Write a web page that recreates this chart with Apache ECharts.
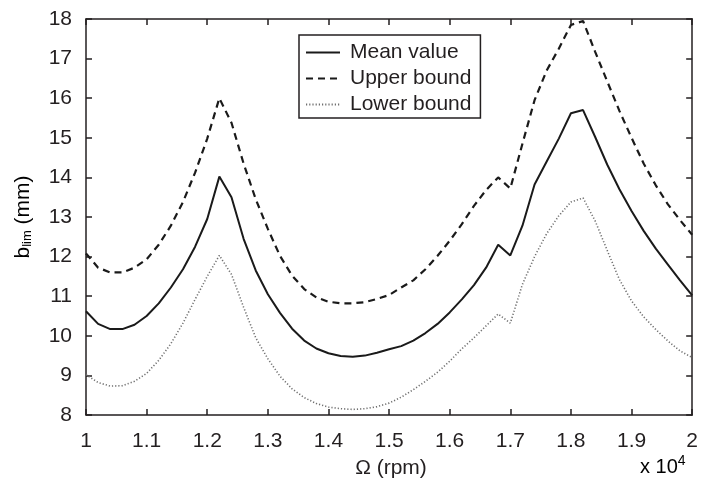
<!DOCTYPE html>
<html>
<head>
<meta charset="utf-8">
<script src="https://cdn.jsdelivr.net/npm/echarts@6/dist/echarts.min.js"></script>
<style>html,body{margin:0;padding:0;background:#fff}#c{width:701px;height:485px}</style>
</head>
<body>
<div id="c"></div>
<script>
// Omega in units of 10^4 rpm
const omega = [1.00,1.02,1.04,1.06,1.08,1.10,1.12,1.14,1.16,1.18,1.20,1.22,1.24,1.26,1.28,1.30,1.32,1.34,1.36,1.38,1.40,1.42,1.44,1.46,1.48,1.50,1.52,1.54,1.56,1.58,1.60,1.62,1.64,1.66,1.68,1.70,1.72,1.74,1.76,1.78,1.80,1.82,1.84,1.86,1.88,1.90,1.92,1.94,1.96,1.98,2.00];
const meanValue = [10.62,10.30,10.17,10.17,10.28,10.50,10.82,11.22,11.68,12.25,12.95,14.02,13.50,12.45,11.65,11.05,10.58,10.18,9.88,9.68,9.56,9.49,9.47,9.50,9.57,9.66,9.74,9.88,10.07,10.30,10.59,10.92,11.28,11.72,12.30,12.03,12.78,13.82,14.40,14.98,15.62,15.70,15.02,14.32,13.70,13.15,12.65,12.20,11.80,11.40,11.02];
const upperBound = [12.08,11.72,11.60,11.60,11.72,11.93,12.30,12.78,13.38,14.12,14.98,16.00,15.38,14.35,13.45,12.70,12.02,11.52,11.18,10.97,10.86,10.82,10.82,10.85,10.93,11.03,11.22,11.40,11.68,12.02,12.40,12.82,13.28,13.68,14.00,13.72,14.85,15.95,16.70,17.25,17.85,17.95,17.17,16.42,15.68,15.00,14.35,13.80,13.32,12.92,12.55];
const lowerBound = [9.02,8.82,8.73,8.74,8.85,9.05,9.38,9.80,10.32,10.92,11.50,12.03,11.55,10.72,9.95,9.42,8.98,8.66,8.44,8.29,8.20,8.16,8.14,8.16,8.21,8.30,8.45,8.64,8.85,9.08,9.36,9.67,9.95,10.25,10.55,10.32,11.30,12.00,12.58,13.03,13.38,13.48,12.90,12.15,11.42,10.88,10.48,10.16,9.87,9.62,9.45];
const seriesNames = ['Mean value','Upper bound','Lower bound'];

const TXT = '#231f20';
const FONT = 'Liberation Sans, Arial, sans-serif';
const pair = arr => omega.map((x,i)=>[x,arr[i]]);
const fmtX = v => String(Math.round(v*10)/10);

const chart = echarts.init(document.getElementById('c'), null, {renderer:'canvas'});
const axisCommon = {
  axisLine:{show:true, onZero:false, lineStyle:{color:'#231f20', width:1.5}},
  axisTick:{show:true, inside:true, length:6, lineStyle:{color:'#231f20', width:1.5}},
  splitLine:{show:false}
};
chart.setOption({
  animation:false,
  backgroundColor:'#fff',
  textStyle:{fontFamily:FONT},
  grid:{left:86, right:4, top:19, bottom:70, containLabel:false},
  legend:{
    orient:'vertical', left:299, top:35,
    data:seriesNames,
    borderColor:'#231f20', borderWidth:1.5,
    padding:[7,9,3,6],
    itemWidth:34, itemHeight:14, itemGap:5,
    itemStyle:{opacity:0},
    textStyle:{fontFamily:FONT, fontSize:21, lineHeight:20, color:TXT, padding:[0,0,0,5]}
  },
  xAxis:[
    Object.assign({type:'value', min:1, max:2, interval:0.1, position:'bottom',
      axisLabel:{fontFamily:FONT, fontSize:21, color:TXT, margin:16, formatter:fmtX}}, axisCommon),
    Object.assign({type:'value', min:1, max:2, interval:0.1, position:'top',
      axisLabel:{show:false}}, axisCommon)
  ],
  yAxis:[
    Object.assign({type:'value', min:8, max:18, interval:1, position:'left',
      axisLabel:{fontFamily:FONT, fontSize:21, color:TXT, margin:14}}, axisCommon),
    Object.assign({type:'value', min:8, max:18, interval:1, position:'right',
      axisLabel:{show:false}}, axisCommon)
  ],
  graphic:[
    {type:'text', x:391, y:468, style:{text:'Ω (rpm)', font:'21px '+FONT, fill:TXT, align:'center', verticalAlign:'middle'}},
    {type:'text', x:640, y:467, style:{
      text:'{a|x 10}{b|4}', verticalAlign:'middle',
      rich:{a:{fontFamily:FONT, fontSize:20, color:TXT}, b:{fontFamily:FONT, fontSize:14, color:TXT, verticalAlign:'top', padding:[0,0,12,0]}}
    }},
    {type:'text', x:23, y:217, rotation:Math.PI/2, style:{
      text:'{a|b}{b|lim}{a| (mm)}', align:'center', verticalAlign:'middle',
      rich:{a:{fontFamily:FONT, fontSize:21, color:TXT}, b:{fontFamily:FONT, fontSize:13, color:TXT, padding:[9,0,0,0]}}
    }}
  ],
  series:[
    {name:seriesNames[0], type:'line', data:pair(meanValue), symbol:'none', smooth:false,
      lineStyle:{color:'#1a1a1a', width:2, type:'solid'}, itemStyle:{color:'#1a1a1a'}},
    {name:seriesNames[1], type:'line', data:pair(upperBound), symbol:'none', smooth:false,
      lineStyle:{color:'#1a1a1a', width:2.2, type:[7,5]}, itemStyle:{color:'#1a1a1a'}},
    {name:seriesNames[2], type:'line', data:pair(lowerBound), symbol:'none', smooth:false,
      lineStyle:{color:'#707070', width:1.6, type:[1.2,2]}, itemStyle:{color:'#707070'}}
  ]
});
</script>
</body>
</html>
